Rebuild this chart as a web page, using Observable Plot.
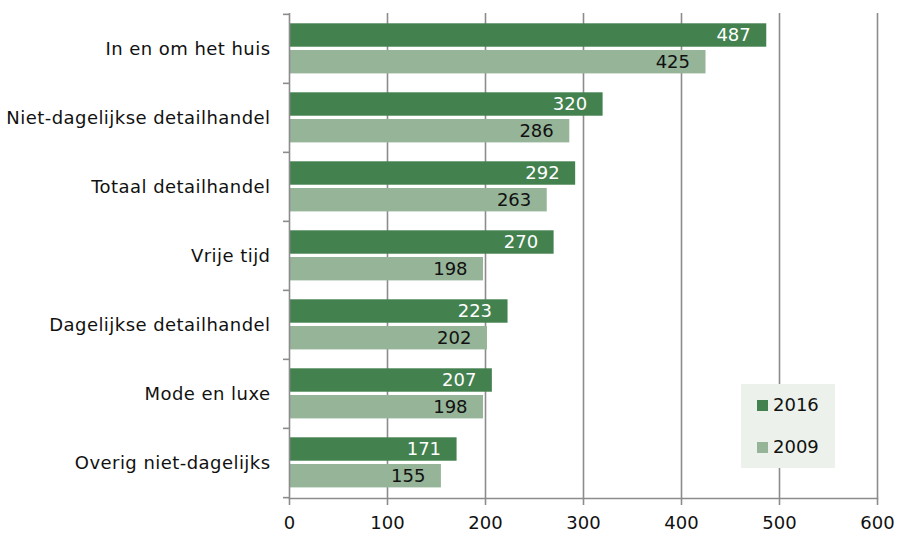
<!DOCTYPE html>
<html>
<head>
<meta charset="utf-8">
<script src="https://cdn.jsdelivr.net/npm/d3@7"></script>
<script src="https://cdn.jsdelivr.net/npm/@observablehq/plot@0.6"></script>
<style>
  html, body { margin: 0; padding: 0; background: #fff; }
  #wrap { position: relative; width: 897px; height: 533px; font-family: "DejaVu Sans", Verdana, sans-serif; }
  #legend { position: absolute; left: 741px; top: 384px; width: 94px; height: 84px; background: #ECF2EB; font-size: 18px; color: #111; }
  .item { position: absolute; left: 16px; display: flex; align-items: center; line-height: 20px; }
  .sw { width: 11px; height: 11px; margin-right: 5px; }
</style>
</head>
<body>
<div id="wrap"></div>
<script>
const categories = ["In en om het huis", "Niet-dagelijkse detailhandel", "Totaal detailhandel", "Vrije tijd", "Dagelijkse detailhandel", "Mode en luxe", "Overig niet-dagelijks"];
const v2016 = [487, 320, 292, 270, 223, 207, 171];
const v2009 = [425, 286, 263, 198, 202, 198, 155];
const years = ["2016", "2009"];
const xTicks = [0, 100, 200, 300, 400, 500, 600];
const colors = {"2016": "#43814F", "2009": "#95B498"};

const rows16 = categories.map((c, i) => ({cat: c, value: v2016[i]}));
const rows09 = categories.map((c, i) => ({cat: c, value: v2009[i]}));

const W = 897, H = 533, mT = 13, mB = 35, mL = 289, mR = 20;
const bw = (H - mT - mB) / categories.length;
const axisColor = "#8C8C8C";
const fs = 18;

const chart = Plot.plot({
  width: W, height: H,
  marginTop: mT, marginBottom: mB, marginLeft: mL, marginRight: mR,
  style: {fontFamily: '"DejaVu Sans", Verdana, sans-serif', fontSize: fs + "px", color: "#111", background: "transparent"},
  x: {domain: [0, 600], axis: null},
  y: {domain: categories, padding: 0, axis: null},
  marks: [
    Plot.ruleX(xTicks.slice(1), {stroke: axisColor, strokeWidth: 1.6}),
    Plot.barX(rows16, {y: "cat", x: "value", fill: colors["2016"], insetTop: 9.3, insetBottom: bw - 9.3 - 23.7}),
    Plot.barX(rows09, {y: "cat", x: "value", fill: colors["2009"], insetTop: 36, insetBottom: 9.6}),
    Plot.text(rows16, {y: "cat", x: "value", text: d => String(d.value), fill: "white", textAnchor: "end", dx: -16, dy: -13.5, fontSize: fs}),
    Plot.text(rows09, {y: "cat", x: "value", text: d => String(d.value), fill: "#111", textAnchor: "end", dx: -16, dy: 13.2, fontSize: fs}),
    Plot.ruleX([0], {stroke: axisColor, strokeWidth: 1.6}),
    Plot.frame({anchor: "bottom", stroke: axisColor, strokeWidth: 1.6}),
    Plot.axisX({ticks: xTicks, tickSize: 7, tickPadding: 11, stroke: axisColor, strokeWidth: 1.6, fill: "#111", label: null, fontSize: fs}),
    Plot.axisY({tickSize: 0, tickPadding: 19, label: null, fill: "#111", fontSize: fs, letterSpacing: 0.45}),
    Plot.axisY({tickSize: 6, dy: -bw / 2, tickFormat: () => "", label: null, stroke: axisColor, strokeWidth: 1.6}),
    Plot.axisY([categories[categories.length - 1]], {tickSize: 6, dy: bw / 2, tickFormat: () => "", label: null, stroke: axisColor, strokeWidth: 1.6})
  ]
});
const wrap = document.getElementById("wrap");
wrap.appendChild(chart);
// letter spacing on category labels
chart.querySelectorAll('g[aria-label="y-axis tick label"] text').forEach(t => t.setAttribute("letter-spacing", "0.45"));

const legend = document.createElement("div");
legend.id = "legend";
years.forEach((y, i) => {
  const it = document.createElement("div");
  it.className = "item";
  it.style.top = (i === 0 ? 11 : 53) + "px";
  it.innerHTML = `<span class="sw" style="background:${colors[y]}"></span><span>${y}</span>`;
  legend.appendChild(it);
});
wrap.appendChild(legend);
</script>
</body>
</html>
